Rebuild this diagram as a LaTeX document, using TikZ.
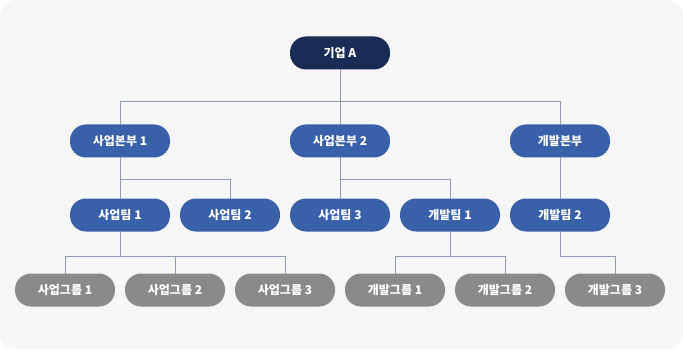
\documentclass[tikz,border=0pt]{standalone}
\usepackage{fontspec}
\setmainfont{Noto Sans CJK KR}
\usepackage{xcolor}
\usetikzlibrary{positioning}
\definecolor{ceonavy}{HTML}{1A2C55}
\definecolor{unitblue}{HTML}{3861AA}
\definecolor{groupgray}{HTML}{8A8A8A}
\definecolor{linkgray}{HTML}{8F9AB4}
\definecolor{bgfill}{HTML}{F6F6F6}

\begin{document}
\begin{tikzpicture}[
x=1pt, y=-1pt,
node distance=10pt and 10pt,
every node/.style={font=\fontsize{12}{14}\selectfont\bfseries, text=white},
pill/.style={rounded corners=16pt, align=center, minimum width=100pt, minimum height=33pt, inner sep=0pt, outer sep=0pt},
ceo/.style={pill, fill=ceonavy},
unit/.style={pill, fill=unitblue},
grp/.style={pill, fill=groupgray},
link/.style={draw=linkgray, line width=0.9pt}
]
\useasboundingbox (0,0) rectangle (683,350);
\fill[bgfill, rounded corners=16pt] (0,0) rectangle (683,349);
% bus lines
\coordinate (bus1) at (0,101);
\coordinate (bus2) at (0,179);
\coordinate (bus3) at (0,256);
% top
\node[ceo] (corp) at (340,53) {기업 A};
% divisions
\node[unit] (div1) at (120,141) {사업본부 1};
\node[unit] (div2) at (340,141) {사업본부 2};
\node[unit] (dev) at (560,141) {개발본부};
% teams
\node[unit] (team1) at (120,215) {사업팀 1};
\node[unit, right=of team1] (team2) {사업팀 2};
\node[unit, right=of team2] (team3) {사업팀 3};
\node[unit, right=of team3] (devteam1) {개발팀 1};
\node[unit, right=of devteam1] (devteam2) {개발팀 2};
% groups
\node[grp] (grp1) at (65,290) {사업그룹 1};
\node[grp, right=of grp1] (grp2) {사업그룹 2};
\node[grp, right=of grp2] (grp3) {사업그룹 3};
\node[grp, right=of grp3] (devgrp1) {개발그룹 1};
\node[grp, right=of devgrp1] (devgrp2) {개발그룹 2};
\node[grp, right=of devgrp2] (devgrp3) {개발그룹 3};
% connectors
\draw[link] (corp) -- (corp |- bus1);
\draw[link] (div1 |- bus1) -- (dev |- bus1);
\draw[link] (div1 |- bus1) -- (div1);
\draw[link] (div2 |- bus1) -- (div2);
\draw[link] (dev |- bus1) -- (dev);
\draw[link] (div1) -- (team1);
\draw[link] (div1 |- bus2) -| (team2);
\draw[link] (div2) -- (team3);
\draw[link] (div2 |- bus2) -| (devteam1);
\draw[link] (dev) -- (devteam2);
\draw[link] (team1) -- (team1 |- bus3);
\draw[link] (grp1 |- bus3) -- (grp3 |- bus3);
\draw[link] (grp1 |- bus3) -- (grp1);
\draw[link] (grp2 |- bus3) -- (grp2);
\draw[link] (grp3 |- bus3) -- (grp3);
\draw[link] (devteam1) -- (devteam1 |- bus3);
\draw[link] (devgrp1 |- bus3) -- (devgrp2 |- bus3);
\draw[link] (devgrp1 |- bus3) -- (devgrp1);
\draw[link] (devgrp2 |- bus3) -- (devgrp2);
\draw[link] (devteam2) |- (devgrp3 |- bus3) -- (devgrp3);
\end{tikzpicture}
\end{document}
